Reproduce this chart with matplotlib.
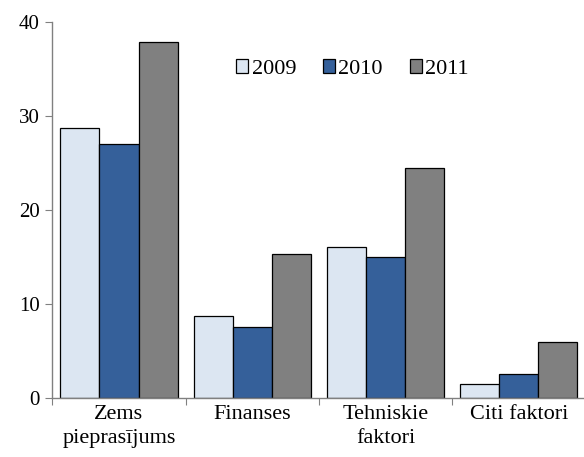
import matplotlib
matplotlib.use("Agg")
import matplotlib.pyplot as plt
import numpy as np

categories = ["Zems\npieprasījums", "Finanses", "Tehniskie\nfaktori", "Citi faktori"]
years = ["2009", "2010", "2011"]
values_2009 = [28.7, 8.7, 16.0, 1.5]
values_2010 = [27.0, 7.5, 15.0, 2.5]
values_2011 = [37.9, 15.3, 24.4, 5.9]
colors = ["#dce6f2", "#35609a", "#808080"]

plt.rcParams["font.family"] = ["Liberation Serif", "DejaVu Serif"]

fig = plt.figure(figsize=(5.84, 4.57), dpi=100)
ax = fig.add_axes([0.0896, 0.130, 0.913, 0.822])

x = np.arange(len(categories))
width = 0.293
for k, (vals, yr, col) in enumerate(zip([values_2009, values_2010, values_2011], years, colors)):
    ax.bar(x + (k - 1) * width, vals, width, color=col, edgecolor="black",
           linewidth=0.9, label=yr)

ax.set_xlim(-0.5, len(categories) - 0.5)
ax.set_ylim(0, 40)
ax.set_yticks([0, 10, 20, 30, 40])

ax.set_xticks(np.arange(len(categories) + 1) - 0.5)
ax.set_xticklabels([])
ax.set_xticks(x, minor=True)
ax.set_xticklabels(categories, minor=True, fontsize=16, linespacing=1.4)
ax.tick_params(axis="x", which="minor", length=0, pad=5)
ax.tick_params(axis="x", which="major", length=5, color="#808080")
ax.tick_params(axis="y", length=5, color="#808080", labelsize=15, pad=4)

for side in ["top", "right"]:
    ax.spines[side].set_visible(False)
for side in ["left", "bottom"]:
    ax.spines[side].set_color("#808080")
    ax.spines[side].set_linewidth(1.0)

ax.legend(loc="center", bbox_to_anchor=(0.563, 0.875), ncol=3, frameon=False,
          fontsize=16, handlelength=0.55, handleheight=0.55, handletextpad=0.15,
          columnspacing=1.2)

fig.savefig("out.png", dpi=100, facecolor="white")
